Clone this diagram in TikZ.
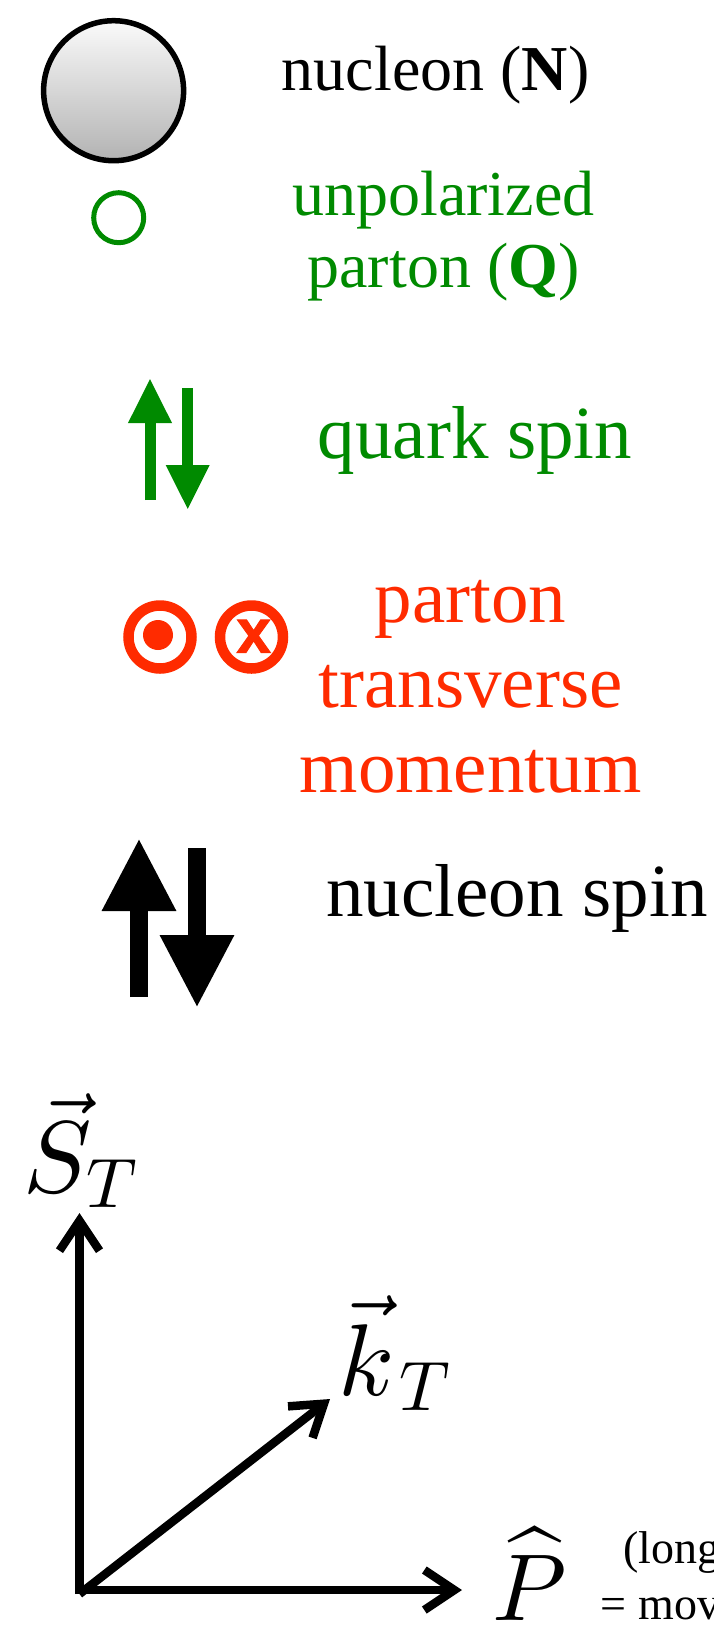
\documentclass[tikz,border=0pt]{standalone}
\usepackage{fix-cm}
\usepackage{exscale}
\usepackage{fontspec}
\setmainfont{Liberation Serif}
\newfontfamily\crossfont[BoldFeatures={FakeBold=1.5}]{Liberation Sans}
\DeclareFontFamily{OML}{cmm}{\skewchar\font127 }
\DeclareFontShape{OML}{cmm}{m}{it}{<->cmmi10}{}
\DeclareFontShape{OMX}{cmex}{m}{n}{<->cmex10}{}
\DeclareMathSizes{102}{102}{70}{50}
\usetikzlibrary{arrows.meta}
\definecolor{partongreen}{rgb}{0, 0.54, 0}
\definecolor{partonred}{rgb}{1, 0.17, 0}
\newcommand\LabelSmall{\fontsize{64}{72}\selectfont}
\newcommand\LabelBig{\fontsize{75}{85}\selectfont}
\newcommand\LabelMath{\fontsize{102}{102}\selectfont}
\newcommand\LabelHat{\fontsize{95}{95}\selectfont}
\newcommand\LabelNote{\fontsize{46}{46}\selectfont}
\tikzset{
  nucleonball/.style={
    inner sep = 0,
    shape = circle,
    draw,
    line width = 5.5pt,
    minimum size = 140pt,
    top color = gray!4,
    bottom color = gray!60
  },
  partonball/.style={
    inner sep = 0,
    shape = circle,
    draw = partongreen,
    line width = 5pt,
    minimum size = 50pt
  },
  ktring/.style={
    inner sep = 0,
    shape = circle,
    draw = partonred,
    line width = 10.5pt,
    minimum size = 63pt
  },
  ktdot/.style={
    inner sep = 0,
    shape = circle,
    fill = partonred,
    minimum size = 30pt
  },
  ktcross/.style={
    inner sep = 0,
    text = partonred,
    font = \fontsize{62}{62}\crossfont\bfseries
  },
  quarkspin/.style={
    draw = partongreen,
    line width = 11pt,
    -{Triangle[length=45pt,width=40.5pt,fill=partongreen]}
  },
  nucleonspin/.style={
    draw = black,
    line width = 18.5pt,
    -{Triangle[length=73pt,width=69pt,fill=black]}
  },
  axis/.style={
    line width = 8.5pt,
    -{Straight Barb[length=30pt,width=40pt]}
  },
  txtsmall/.style={
    anchor = base,
    align = center,
    inner sep = 0,
    font = \LabelSmall
  },
  txtbig/.style={
    anchor = base,
    align = center,
    inner sep = 0,
    font = \LabelBig
  },
  vectxt/.style={
    anchor = base west,
    inner sep = 0,
    font = \LabelMath
  },
  hattxt/.style={
    anchor = base west,
    inner sep = 0,
    font = \LabelHat
  },
  notetxt/.style={
    anchor = base west,
    inner sep = 0,
    font = \LabelNote
  }
}

\begin{document}
\begin{tikzpicture}[x=1pt,y=-1pt]
    \useasboundingbox (0,0) rectangle (713,1628);

    % legend
    \node[nucleonball] (nucleon) at (113.6,90.7) {};
    \node[partonball] (parton) at (118.7,217.7) {};
    \node[txtsmall] (nucleonlabel) at (435.6,90) {nucleon (\textbf{N})};
    \node[txtsmall, text=partongreen] (partonlabel) at (443.5,287) {unpolarized\\parton (\textbf{Q})};

    \coordinate (qupS) at (150,500);
    \coordinate (qupE) at (150,378);
    \coordinate (qdownS) at (187.7,388);
    \coordinate (qdownE) at (187.7,510);
    \draw[quarkspin] (qupS) -- (qupE);
    \draw[quarkspin] (qdownS) -- (qdownE);
    \node[txtbig, text=partongreen] (quarklabel) at (475,458.5) {quark spin};

    \node[ktring] (ringout) at (160,637) {};
    \node[ktdot] (dotout) at (158,635) {};
    \node[ktring] (ringin) at (251.5,637) {};
    \node[ktcross, anchor=base] (crossin) at (253.7,652.7) {x};
    \node[txtbig, text=partonred] (ktlabel) at (470.5,792) {parton\\transverse\\momentum};

    \coordinate (NupS) at (139,997);
    \coordinate (NupE) at (139,838);
    \coordinate (NdownS) at (197,848);
    \coordinate (NdownE) at (197,1008);
    \draw[nucleonspin] (NupS) -- (NupE);
    \draw[nucleonspin] (NdownS) -- (NdownE);
    \node[txtbig] (spinlabel) at (517,916) {nucleon spin};

    % axes
    \coordinate (origin) at (79.5,1594);
    \coordinate (Stip) at (79.5,1213);
    \coordinate (ktip) at (330,1399);
    \coordinate (Ptip) at (462,1590);
    \draw[axis] (origin) -- (Stip);
    \draw[axis] (origin) -- (ktip);
    \draw[axis] ([yshift=4pt]origin) -- (Ptip);

    \node[vectxt] (Slabel) at (23,1192) {$\vec{S}_{\kern1pt T}$};
    \node[vectxt] (klabel) at (338,1395) {$\vec{k}_{\kern8pt T}$};
    \node[hattxt] (Plabel) at (492,1620) {$\widehat{P\kern12pt}\kern-12pt$};
    \node[notetxt] (longlabel) at (623,1563) {(long};
    \node[notetxt] (movlabel) at (600.7,1619) {= mov};
\end{tikzpicture}
\end{document}
